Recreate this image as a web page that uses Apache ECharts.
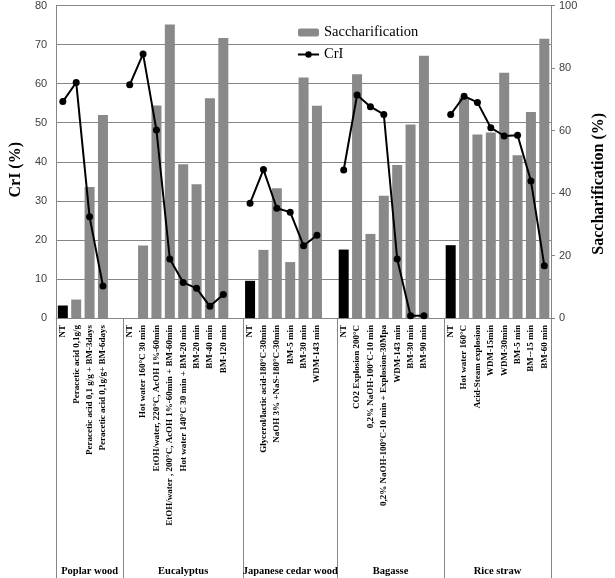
<!DOCTYPE html>
<html>
<head>
<meta charset="utf-8">
<script src="https://cdn.jsdelivr.net/npm/echarts@6/dist/echarts.min.js"></script>
<style>html,body{margin:0;padding:0;background:#fff}#c{width:615px;height:578px}</style>
</head>
<body>
<div id="c"></div>
<script>
// ---- data ----
const groupNames = ["Poplar wood", "Eucalyptus", "Japanese cedar wood", "Bagasse", "Rice straw"];

const poplarLabels = ["NT", "Peracetic acid 0,1g/g", "Peracetic acid 0,1 g/g + BM-3days", "Peracetic acid 0,1g/g+ BM-6days"];
const poplarSacch = [4.0, 5.9, 41.9, 65.0];
const poplarCrI = [55.4, 60.3, 25.9, 8.2];

const eucLabels = ["NT", "Hot water 160°C 30 min", "EtOH/water, 220°C, AcOH 1%-60min", "EtOH/water , 200°C, AcOH 1%-60min + BM-60min", "Hot water 140°C 30 min + BM-20 min", "BM-20 min", "BM-40 min", "BM-120 min"];
const eucSacch = [null, 23.2, 68.0, 93.9, 49.2, 42.8, 70.3, 89.6];
const eucCrI = [59.7, 67.6, 48.1, 15.1, 9.1, 7.6, 3.0, 6.0];

const cedarLabels = ["NT", "Glycerol/lactic acid-180°C-30min", "NaOH 3% +NaS-180°C-30min", "BM-5 min", "BM-30 min", "WDM-143 min"];
const cedarSacch = [11.9, 21.8, 41.5, 17.9, 77.0, 67.9];
const cedarCrI = [29.4, 38.0, 28.1, 27.1, 18.5, 21.2];

const bagasseLabels = ["NT", "CO2 Explosion 200°C", "0,2% NaOH-100°C-10 min", "0,2% NaOH-100°C-10 min + Explosion-30Mpa", "WDM-143 min", "BM-30 min", "BM-90 min"];
const bagasseSacch = [21.9, 78.0, 26.9, 39.1, 49.0, 61.9, 83.9];
const bagasseCrI = [37.9, 57.1, 54.1, 52.1, 15.1, 0.6, 0.6];

const riceLabels = ["NT", "Hot water 160°C", "Acid-Steam explosion", "WDM-15min", "WDM-30min", "BM-5 min", "BM--15 min", "BM-60 min"];
const riceSacch = [23.3, 70.5, 58.7, 59.4, 78.5, 52.1, 65.9, 89.4];
const riceCrI = [52.1, 56.8, 55.2, 48.7, 46.6, 46.8, 35.1, 13.4];

// ---- build ----
const groups = [
  [poplarLabels, poplarSacch, poplarCrI],
  [eucLabels, eucSacch, eucCrI],
  [cedarLabels, cedarSacch, cedarCrI],
  [bagasseLabels, bagasseSacch, bagasseCrI],
  [riceLabels, riceSacch, riceCrI]
];
const cats = [], sacch = [], cri = [], sizes = [];
groups.forEach((g, gi) => {
  const [lab, s, c] = g;
  lab.forEach((l, i) => {
    cats.push(l);
    const v = s[i];
    if (v == null) sacch.push(null);
    else sacch.push(l === "NT" ? { value: v, itemStyle: { color: "#000" } } : v);
    cri.push(c[i]);
  });
  let size = lab.length;
  if (gi < groups.length - 1) { cats.push(""); sacch.push(null); cri.push(null); size++; }
  sizes.push(size);
});
const nSlots = cats.length;
const halfCats = new Array(2 * nSlots + 1).fill("");
const sepIdx = [0];
let acc = 0;
sizes.forEach((s, i) => {
  halfCats[2 * acc + s] = groupNames[i];
  acc += s;
  sepIdx.push(2 * acc);
});

const serif = "'Liberation Serif','Times New Roman',serif";
const gray = "#868686";

const chart = echarts.init(document.getElementById('c'), null, { renderer: 'canvas' });
chart.setOption({
  animation: false,
  backgroundColor: '#fff',
  grid: { left: 44, right: 47, top: 5, bottom: 260, containLabel: false },
  legend: {
    orient: 'vertical', left: 292, top: 20, itemWidth: 21, itemHeight: 8, itemGap: 7,
    textStyle: { fontFamily: serif, fontSize: 14.5, color: '#000' },
    data: ['Saccharification', 'CrI']
  },
  xAxis: [
    {
      type: 'category', data: cats, position: 'bottom',
      axisLine: { lineStyle: { color: gray, width: 1 } },
      axisTick: { show: false },
      axisLabel: { interval: 0, rotate: 90, margin: 7, fontFamily: serif, fontWeight: 'bold', fontSize: 9, color: '#000' }
    },
    {
      type: 'category', data: halfCats, boundaryGap: false, position: 'bottom',
      axisLine: { show: false },
      axisTick: { show: true, interval: (i) => sepIdx.includes(i), length: 262, lineStyle: { color: gray, width: 1 } },
      axisLabel: { interval: (i) => halfCats[i] !== "", margin: 248, fontFamily: serif, fontWeight: 'bold', fontSize: 10.5, color: '#000' },
      splitLine: { show: false }
    }
  ],
  yAxis: [
    {
      type: 'value', min: 0, max: 80, interval: 10, position: 'left',
      name: 'CrI (%)', nameLocation: 'middle', nameGap: 28, nameRotate: 90,
      nameTextStyle: { fontFamily: serif, fontWeight: 'bold', fontSize: 16, color: '#000', padding: [0, 16, 0, 0] },
      axisLine: { show: true, lineStyle: { color: gray } },
      axisTick: { show: false },
      axisLabel: { margin: 9, fontFamily: "'Liberation Sans',sans-serif", fontSize: 11, color: '#404040' },
      splitLine: { show: true, lineStyle: { color: gray, width: 1 } }
    },
    {
      type: 'value', min: 0, max: 100, interval: 20, position: 'right',
      name: 'Saccharification (%)', nameLocation: 'middle', nameGap: 40, nameRotate: 90,
      nameTextStyle: { fontFamily: serif, fontWeight: 'bold', fontSize: 16, color: '#000', padding: [0, 44, 0, 0] },
      axisLine: { show: true, lineStyle: { color: gray } },
      axisTick: { show: true, length: 4, lineStyle: { color: gray } },
      axisLabel: { margin: 8, fontFamily: "'Liberation Sans',sans-serif", fontSize: 11, color: '#404040' },
      splitLine: { show: false }
    }
  ],
  series: [
    {
      name: 'Saccharification', type: 'bar', xAxisIndex: 0, yAxisIndex: 1,
      data: sacch, barWidth: 10, itemStyle: { color: '#898989' }
    },
    {
      name: 'CrI', type: 'line', xAxisIndex: 0, yAxisIndex: 0,
      data: cri, connectNulls: false, symbol: 'circle', symbolSize: 7,
      lineStyle: { color: '#000', width: 2 }, itemStyle: { color: '#000' }
    }
  ]
});
</script>
</body>
</html>
